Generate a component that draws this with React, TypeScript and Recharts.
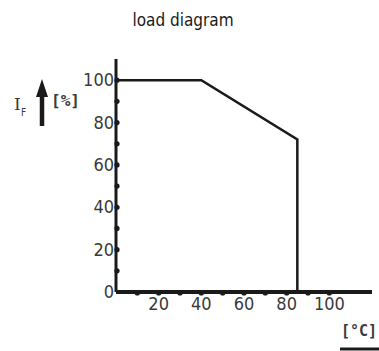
import React from 'react'
import { LineChart, Line, XAxis, YAxis } from 'recharts'

// derating curve: temperature [°C] -> permissible forward current [%]
const temps = [0, 40, 85, 85]
const loads = [100, 100, 72, 0]

const xTicks = [10, 20, 30, 40, 50, 60, 70, 80, 90, 100]
const yTicks = [0, 10, 20, 30, 40, 50, 60, 70, 80, 90, 100]

const data = temps.map((t, i) => ({ t, load: loads[i] }))

const FONT = '"DejaVu Sans Condensed", "DejaVu Sans", sans-serif'
const MONO = '"DejaVu Sans Mono", monospace'
const INK = '#1a1a1a'
const LABEL = '#3a3a3a'

function XTick(props: any): React.ReactElement {
  const { x, y, payload } = props
  const v = payload.value as number
  return (
    <g>
      <circle cx={x} cy={y - 5} r={2.6} fill={INK} />
      {v % 20 === 0 && (
        <text x={x} y={y + 12} textAnchor="middle" fontSize={18} fill={LABEL} fontFamily={FONT}>
          {v}
        </text>
      )}
    </g>
  )
}

function YTick(props: any): React.ReactElement {
  const { x, y, payload } = props
  const v = payload.value as number
  return (
    <g>
      {v > 0 && <circle cx={x + 7} cy={y} r={2.6} fill={INK} />}
      {v % 20 === 0 && (
        <text x={x + 4} y={y + 6} textAnchor="end" fontSize={18} fill={LABEL} fontFamily={FONT}>
          {v}
        </text>
      )}
    </g>
  )
}

export default function App(): React.ReactElement {
  return (
    <div style={{ position: 'absolute', left: 0, top: 0, width: 379, height: 351, background: '#fff' }}>
      <LineChart
        width={379}
        height={351}
        data={data}
        margin={{ top: 59, right: 7, bottom: 29, left: 76 }}
      >
        <XAxis
          dataKey="t"
          type="number"
          domain={[0, 120]}
          ticks={xTicks}
          interval={0}
          height={30}
          tickLine={false}
          axisLine={{ stroke: INK, strokeWidth: 4 }}
          tick={<XTick />}
          tickMargin={0}
        />
        <YAxis
          type="number"
          domain={[0, 110]}
          ticks={yTicks}
          interval={0}
          width={40}
          tickLine={false}
          axisLine={{ stroke: INK, strokeWidth: 3 }}
          tick={<YTick />}
          tickMargin={0}
        />
        <Line
          dataKey="load"
          type="linear"
          stroke={INK}
          strokeWidth={2.5}
          dot={false}
          isAnimationActive={false}
        />
      </LineChart>
      <svg
        width={379}
        height={351}
        style={{ position: 'absolute', left: 0, top: 0, pointerEvents: 'none' }}
      >
        <text x={183} y={26} textAnchor="middle" fontSize={17} fill={INK} fontFamily={FONT}>
          load diagram
        </text>
        {/* y-axis quantity: I_F with upward arrow and unit */}
        <text x={14} y={110} fontSize={17} fill={LABEL} fontFamily="'DejaVu Serif', serif">
          I
        </text>
        <text x={21} y={116} fontSize={10} fill={LABEL} fontFamily={FONT}>
          F
        </text>
        <line x1={42} y1={95} x2={42} y2={126} stroke={INK} strokeWidth={4.5} />
        <polygon points="36,97 48,97 42,79" fill={INK} />
        <text x={51} y={106} fontSize={16} fontWeight="bold" fill={LABEL} fontFamily={MONO}>
          [%]
        </text>
        {/* x-axis unit with arrow */}
        <text x={341} y={336} fontSize={15} fontWeight="bold" fill={LABEL} fontFamily={MONO}>
          [°C]
        </text>
        <line x1={340} y1={349} x2={379} y2={349} stroke={INK} strokeWidth={3} />
      </svg>
    </div>
  )
}
